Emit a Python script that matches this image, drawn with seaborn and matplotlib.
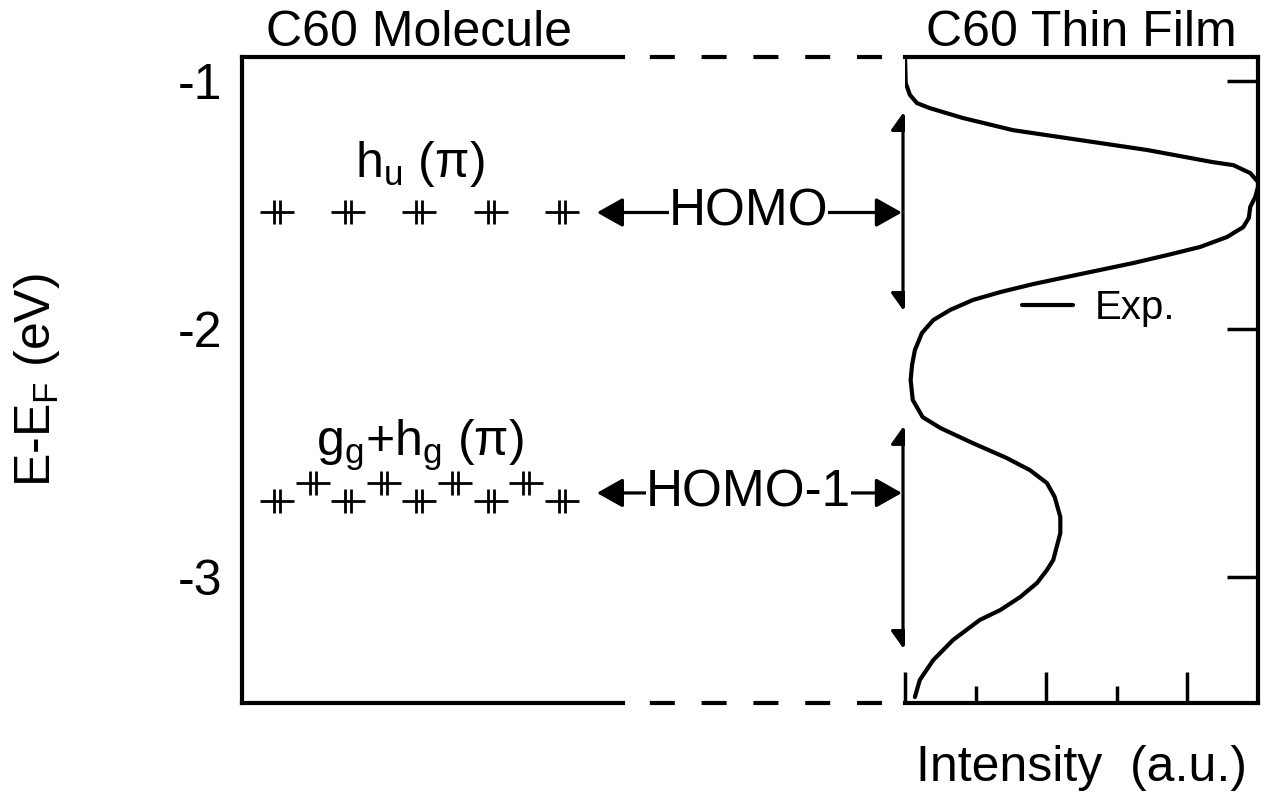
import numpy as np
import pandas as pd
import matplotlib
matplotlib.use("Agg")
import matplotlib.pyplot as plt
import seaborn as sns
from matplotlib.path import Path

# ---------------- data ----------------
energy_ticks = [-1, -2, -3]
energy_tick_labels = ["-1", "-2", "-3"]
intensity_major = [0, 2, 4]
intensity_minor = [1, 3]

# molecular levels (left panel)
hu_pos = [1, 2, 3, 4, 5]
hu_E = [-1.53, -1.53, -1.53, -1.53, -1.53]
gh_pos = [1, 1.5, 2, 2.5, 3, 3.5, 4, 4.5, 5]
gh_E = [-2.694, -2.621, -2.694, -2.621, -2.694, -2.621, -2.694, -2.621, -2.694]

# thin-film spectrum (right panel)
spec_E = [-0.903, -1.008, -1.056, -1.089, -1.109, -1.149, -1.198, -1.238, -1.278,
          -1.327, -1.339, -1.371, -1.407, -1.427, -1.468, -1.508, -1.552, -1.589,
          -1.629, -1.669, -1.702, -1.734, -1.762, -1.790, -1.819, -1.851, -1.883,
          -1.923, -1.964, -2.016, -2.085, -2.145, -2.206, -2.286, -2.355, -2.399,
          -2.460, -2.520, -2.569, -2.621, -2.677, -2.758, -2.823, -2.931, -2.972,
          -3.024, -3.081, -3.133, -3.173, -3.254, -3.335, -3.415, -3.484]
spec_I = [0.00, 0.01, 0.07, 0.17, 0.35, 0.82, 1.53, 2.48, 3.43,
          4.36, 4.65, 4.89, 5.00, 5.00, 4.96, 4.89, 4.87, 4.79,
          4.56, 4.18, 3.71, 3.23, 2.76, 2.29, 1.81, 1.35, 0.96,
          0.64, 0.40, 0.24, 0.14, 0.10, 0.08, 0.11, 0.25, 0.50,
          0.96, 1.44, 1.77, 2.01, 2.12, 2.20, 2.20, 2.10, 2.01,
          1.87, 1.63, 1.35, 1.06, 0.68, 0.40, 0.21, 0.14]

homo_arrow_E = -1.53
homo1_arrow_E = -2.661
homo_span = (-1.129, -1.923)
homo1_span = (-2.395, -3.286)

# ---------------- style ----------------
sns.set_style("white")
plt.rcParams['font.family'] = ['Liberation Sans', 'DejaVu Sans']
plt.rcParams['mathtext.fontset'] = 'custom'
plt.rcParams['mathtext.rm'] = 'Liberation Sans'
plt.rcParams['mathtext.it'] = 'Liberation Sans:italic'
plt.rcParams['axes.unicode_minus'] = False
plt.rcParams['lines.scale_dashes'] = False
plt.rcParams['text.color'] = 'black'
plt.rcParams['axes.labelcolor'] = 'black'
plt.rcParams['xtick.color'] = 'black'
plt.rcParams['ytick.color'] = 'black'

FS = 36
LW = 3.0

fig = plt.figure(figsize=(12.65, 7.94), dpi=100)
W, H = 1265, 794
top_px, bot_px = 57, 703
ax1 = fig.add_axes([242 / W, (H - bot_px) / H, (905 - 242) / W, (bot_px - top_px) / H])
ax2 = fig.add_axes([905 / W, (H - bot_px) / H, (1258 - 905) / W, (bot_px - top_px) / H], sharey=ax1)

ylim = (-3.508, -0.903)
ax1.set_ylim(*ylim)
ax1.set_xlim(0.509, 9.814)
ax2.set_xlim(0, 5)

# ---------- left panel ----------
for s in ['top', 'right', 'bottom']:
    ax1.spines[s].set_visible(False)
ax1.spines['left'].set_linewidth(LW)
ax1.spines['left'].set_color('black')
ax1.set_xticks([])
ax1.set_yticks(energy_ticks)
ax1.set_yticklabels(energy_tick_labels, fontsize=FS)
ax1.tick_params(axis='y', direction='in', length=22, width=2.5, pad=14, colors='black')

# frame top/bottom: solid then dashed
xs_solid = (381 / 663)
for yy in (0.0, 1.0):
    ax1.plot([0, xs_solid], [yy, yy], transform=ax1.transAxes, color='black',
             lw=LW, solid_capstyle='projecting', clip_on=False)
    ax1.plot([xs_solid, 1.0], [yy, yy], transform=ax1.transAxes, color='black',
             lw=LW, linestyle=(18.0, (18.0, 19.3)), dash_capstyle='butt', clip_on=False)

# custom "++" level marker
verts = [(-1, 0), (1, 0), (-0.19, -0.72), (-0.19, 0.72), (0.19, -0.72), (0.19, 0.72)]
codes = [Path.MOVETO, Path.LINETO, Path.MOVETO, Path.LINETO, Path.MOVETO, Path.LINETO]
lev_marker = Path(verts, codes)

df_hu = pd.DataFrame({"pos": hu_pos, "E": hu_E})
df_gh = pd.DataFrame({"pos": gh_pos, "E": gh_E})
for d in (df_hu, df_gh):
    sns.scatterplot(data=d, x="pos", y="E", ax=ax1, marker=lev_marker, s=24 ** 2,
                    color='black', edgecolor='black', linewidth=2.0, legend=False)
ax1.set_xlabel("")
ax1.set_ylabel(r"E-E$_{\mathregular{F}}$ (eV)", fontsize=FS)
ax1.yaxis.set_label_coords(-0.272, 0.5)

ax1.text(3.0, -1.335, r"h$_{\mathregular{u}}$ (π)", fontsize=FS, ha='center', va='center')
ax1.text(3.0, -2.468, r"g$_{\mathregular{g}}$+h$_{\mathregular{g}}$ (π)", fontsize=FS,
         ha='center', va='center')

ax1.annotate("C60 Molecule", xy=(3.0, 1.0), xycoords=('data', 'axes fraction'),
             xytext=(0, 8), textcoords='offset points', ha='center', va='baseline',
             fontsize=FS)

# horizontal arrows with labels
harrow = dict(arrowstyle="<|-|>,head_length=16,head_width=9", mutation_scale=1,
              color='black', lw=2.3, shrinkA=0, shrinkB=0)
for E, lab in ((homo_arrow_E, "HOMO"), (homo1_arrow_E, "HOMO-1")):
    ax1.annotate("", xy=(5.49, E), xytext=(9.77, E), arrowprops=harrow,
                 annotation_clip=False)
    ax1.text(7.615, E, lab, fontsize=37, ha='center', va='center', zorder=5,
             bbox=dict(facecolor='white', edgecolor='none', pad=0.0))

# vertical arrows
varrow = dict(arrowstyle="<|-|>,head_length=10.5,head_width=7.5", mutation_scale=1,
              color='black', lw=2.3, shrinkA=0, shrinkB=0)
for (e1, e2) in (homo_span, homo1_span):
    ax1.annotate("", xy=(9.786, e1), xytext=(9.786, e2), arrowprops=varrow,
                 annotation_clip=False)

# ---------- right panel ----------
df_spec = pd.DataFrame({"I": spec_I, "E": spec_E})
sns.lineplot(data=df_spec, x="I", y="E", sort=False, estimator=None, ax=ax2,
             color='black', lw=LW, label="Exp.", solid_joinstyle='round',
             solid_capstyle='round')
ax2.spines['left'].set_visible(False)
for s in ['top', 'right', 'bottom']:
    ax2.spines[s].set_linewidth(LW)
    ax2.spines[s].set_color('black')
ax2.set_xticks(intensity_major)
ax2.set_xticks(intensity_minor, minor=True)
ax2.tick_params(axis='x', which='both', direction='in', bottom=True, labelbottom=False,
                width=2.5, colors='black')
ax2.tick_params(axis='x', which='major', length=22)
ax2.tick_params(axis='x', which='minor', length=12)
ax2.tick_params(axis='y', which='both', direction='in', left=False, labelleft=False,
                right=True, labelright=False, length=22, width=2.5, colors='black')
ax2.set_ylabel("")
ax2.set_xlabel("Intensity  (a.u.)", fontsize=FS, labelpad=30)
ax2.set_title("C60 Thin Film", fontsize=FS, pad=8)
ax2.legend(loc='center left', bbox_to_anchor=(0.331, 0.611), frameon=False,
           fontsize=29, handlelength=1.27, handletextpad=0.55, borderpad=0,
           borderaxespad=0)

fig.savefig("out.png", dpi=100)
